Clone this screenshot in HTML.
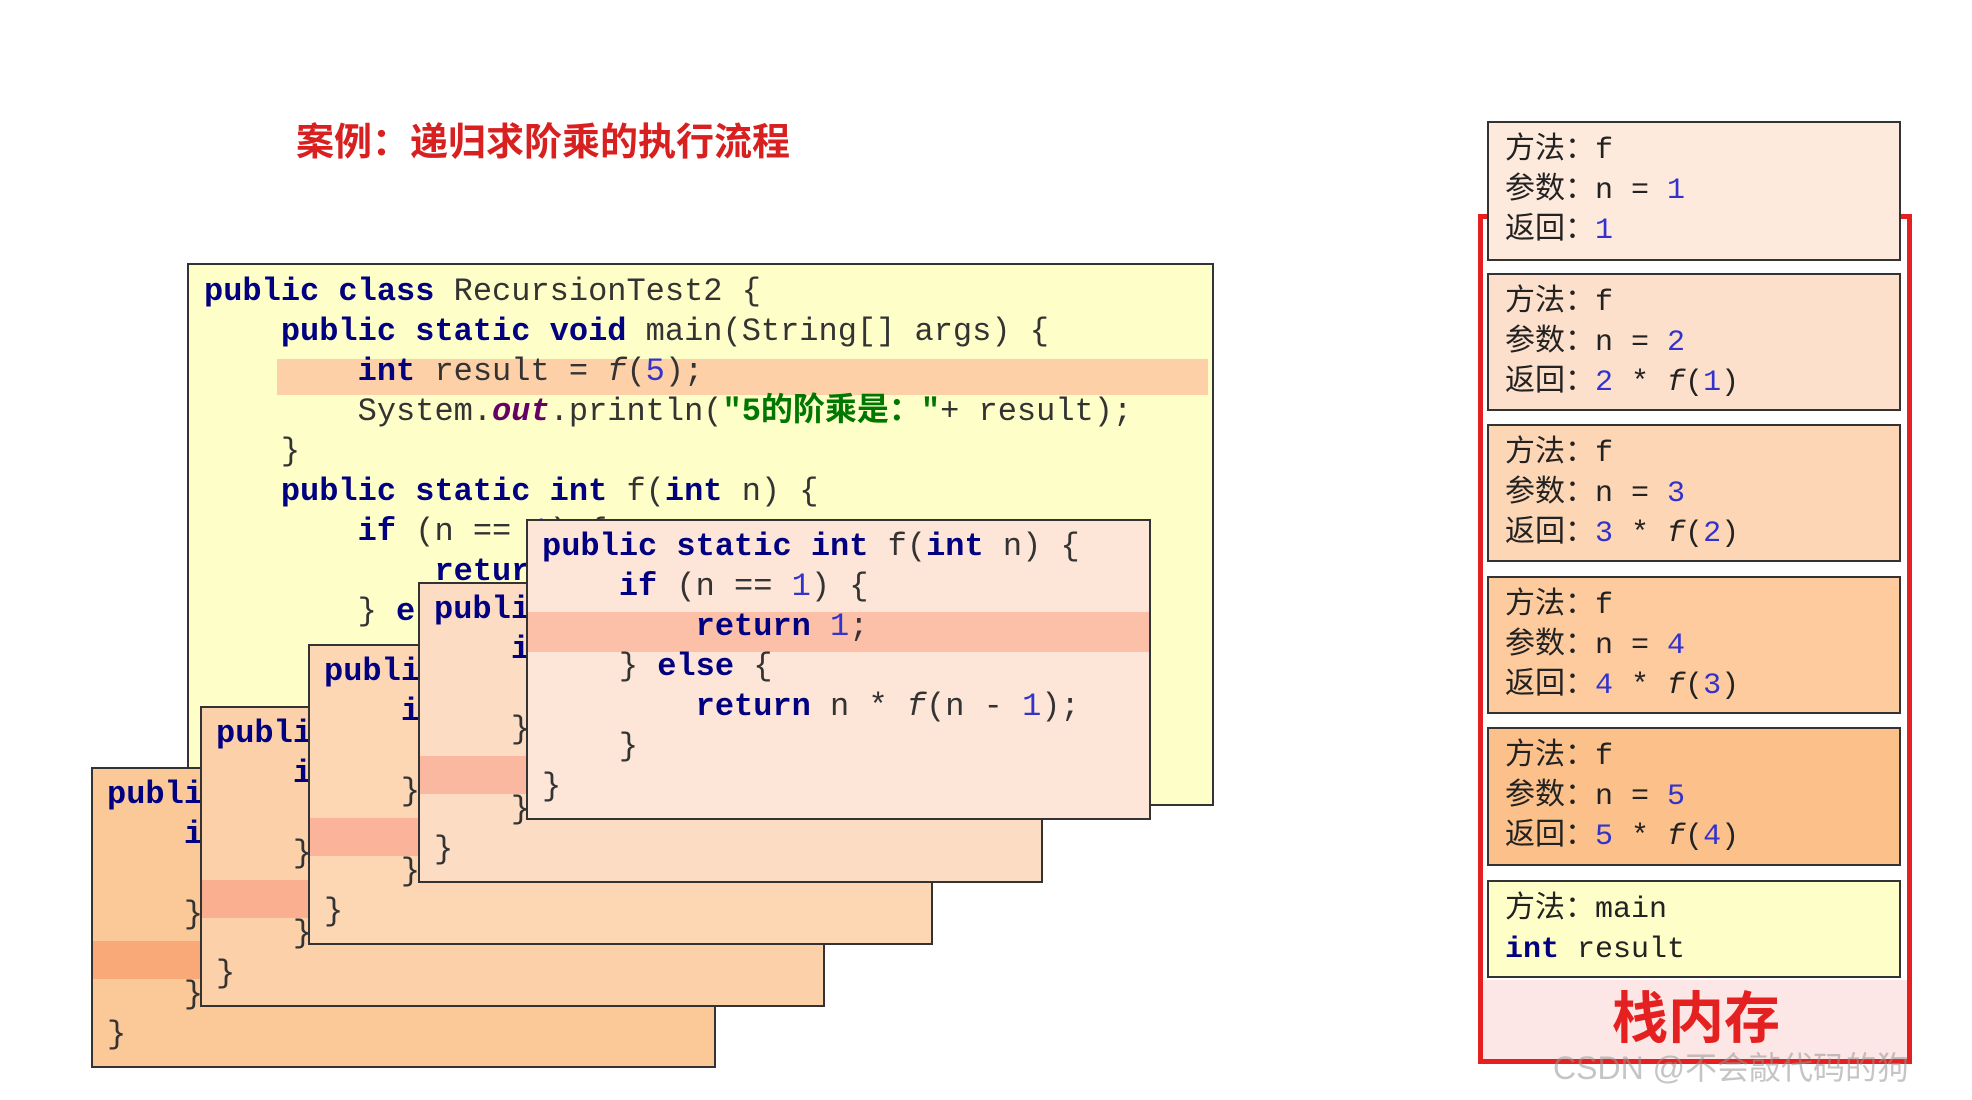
<!DOCTYPE html>
<html><head><meta charset="utf-8">
<style>
*{margin:0;padding:0;box-sizing:border-box}
body{width:1972px;height:1100px;background:#fff;position:relative;overflow:hidden;font-family:"Liberation Mono","Noto Sans CJK SC",monospace;color:#333}
.abs{position:absolute}
.code{position:absolute;font-size:32px;line-height:40px;white-space:pre;color:#333}
.k{color:#000080;font-weight:bold}
.n{color:#3333cc}
.i{font-style:italic}
.o{color:#660066;font-style:italic;font-weight:bold}
.s{color:#007700;font-weight:bold}
.box{position:absolute;border:2px solid #333;overflow:hidden}
.fr{width:625px;height:301px}
.hl{position:absolute}
.card{position:absolute;left:1487px;width:414px;border:2px solid #333;padding:8px 0 0 16px;font-size:30px;line-height:40px;white-space:pre;color:#222}
</style></head><body>
<div class="abs" style="left:296px;top:118px;font-family:'Liberation Sans','Noto Sans CJK SC',sans-serif;font-weight:bold;font-size:38px;color:#d82020;line-height:50px">案例：递归求阶乘的执行流程</div>

<div class="box" style="left:187px;top:263px;width:1027px;height:543px;background:#fefec8">
<div class="hl" style="left:88px;top:94px;width:931px;height:36px;background:#fdd0a8"></div>
<div class="code" style="left:15px;top:7px"><span class="k">public class</span> RecursionTest2 {
    <span class="k">public static void</span> main(String[] args) {
        <span class="k">int</span> result = <span class="i">f</span>(<span class="n">5</span>);
        System.<span class="o">out</span>.println(<span class="s">"5的阶乘是："</span>+ result);
    }
    <span class="k">public static int</span> f(<span class="k">int</span> n) {
        <span class="k">if</span> (n == <span class="n">1</span>) {
            <span class="k">return</span> <span class="n">1</span>;
        } <span class="k">else</span> {
            <span class="k">return</span> n * <span class="i">f</span>(n - <span class="n">1</span>);
        }
    }
}</div>
</div>

<div class="box fr" style="left:91px;top:767px;background:#fbc898"><div class="hl" style="left:0;top:172px;width:100%;height:38px;background:#f9a878"></div><div class="code" style="left:14px;top:6px"><span class="k">public static int</span> f(<span class="k">int</span> n) {
    <span class="k">if</span> (n == <span class="n">1</span>) {
        <span class="k">return</span> <span class="n">1</span>;
    } <span class="k">else</span> {
        <span class="k">return</span> n * <span class="i">f</span>(n - <span class="n">1</span>);
    }
}</div></div>
<div class="box fr" style="left:200px;top:706px;background:#fcd0a8"><div class="hl" style="left:0;top:172px;width:100%;height:38px;background:#fab090"></div><div class="code" style="left:14px;top:6px"><span class="k">public static int</span> f(<span class="k">int</span> n) {
    <span class="k">if</span> (n == <span class="n">1</span>) {
        <span class="k">return</span> <span class="n">1</span>;
    } <span class="k">else</span> {
        <span class="k">return</span> n * <span class="i">f</span>(n - <span class="n">1</span>);
    }
}</div></div>
<div class="box fr" style="left:308px;top:644px;background:#fdd6b4"><div class="hl" style="left:0;top:172px;width:100%;height:38px;background:#fbb49a"></div><div class="code" style="left:14px;top:6px"><span class="k">public static int</span> f(<span class="k">int</span> n) {
    <span class="k">if</span> (n == <span class="n">1</span>) {
        <span class="k">return</span> <span class="n">1</span>;
    } <span class="k">else</span> {
        <span class="k">return</span> n * <span class="i">f</span>(n - <span class="n">1</span>);
    }
}</div></div>
<div class="box fr" style="left:418px;top:582px;background:#fddcc4"><div class="hl" style="left:0;top:172px;width:100%;height:38px;background:#fbb8a0"></div><div class="code" style="left:14px;top:6px"><span class="k">public static int</span> f(<span class="k">int</span> n) {
    <span class="k">if</span> (n == <span class="n">1</span>) {
        <span class="k">return</span> <span class="n">1</span>;
    } <span class="k">else</span> {
        <span class="k">return</span> n * <span class="i">f</span>(n - <span class="n">1</span>);
    }
}</div></div>
<div class="box fr" style="left:526px;top:519px;background:#fde6d8"><div class="hl" style="left:0;top:91px;width:100%;height:40px;background:#fcc0a8"></div><div class="code" style="left:14px;top:6px"><span class="k">public static int</span> f(<span class="k">int</span> n) {
    <span class="k">if</span> (n == <span class="n">1</span>) {
        <span class="k">return</span> <span class="n">1</span>;
    } <span class="k">else</span> {
        <span class="k">return</span> n * <span class="i">f</span>(n - <span class="n">1</span>);
    }
}</div></div>

<div class="abs" style="left:1478px;top:214px;width:434px;height:850px;border:5px solid #e42020;background:#fff"></div>
<div class="abs" style="left:1483px;top:980px;width:424px;height:79px;background:#fde6e6"></div>
<div class="card" style="top:121px;height:140px;background:#fdeadc">方法：f
参数：n = <span class="n">1</span>
返回：<span class="n">1</span></div>
<div class="card" style="top:273px;height:138px;background:#fde0cc">方法：f
参数：n = <span class="n">2</span>
返回：<span class="n">2</span> * <span class="i">f</span>(<span class="n">1</span>)</div>
<div class="card" style="top:424px;height:138px;background:#fdd6b6">方法：f
参数：n = <span class="n">3</span>
返回：<span class="n">3</span> * <span class="i">f</span>(<span class="n">2</span>)</div>
<div class="card" style="top:576px;height:138px;background:#fdcb9e">方法：f
参数：n = <span class="n">4</span>
返回：<span class="n">4</span> * <span class="i">f</span>(<span class="n">3</span>)</div>
<div class="card" style="top:727px;height:139px;background:#fcc08a">方法：f
参数：n = <span class="n">5</span>
返回：<span class="n">5</span> * <span class="i">f</span>(<span class="n">4</span>)</div>
<div class="card" style="top:880px;height:98px;background:#fefec8">方法：main
<span class="k">int</span> result</div>
<div class="abs" style="left:1606px;top:984px;width:180px;text-align:center;font-family:'Liberation Sans','Noto Sans CJK SC',sans-serif;font-weight:bold;font-size:56px;line-height:70px;color:#e42020">栈内存</div>
<div class="abs" style="left:1553px;top:1048px;font-family:'Liberation Sans','Noto Sans CJK SC',sans-serif;font-size:32px;line-height:40px;color:rgba(150,150,150,0.55)">CSDN @不会敲代码的狗</div>
</body></html>
